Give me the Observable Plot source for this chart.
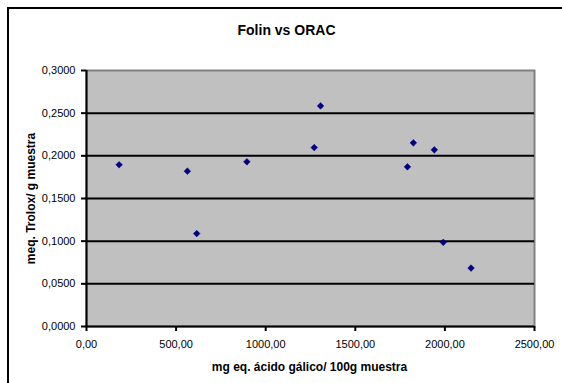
<!DOCTYPE html>
<html>
<head>
<meta charset="utf-8">
<script src="https://cdn.jsdelivr.net/npm/d3@7"></script>
<script src="https://cdn.jsdelivr.net/npm/@observablehq/plot@0.6"></script>
<style>
  html, body { margin: 0; padding: 0; background: #fff; }
  #wrap { position: relative; width: 562px; height: 383px; overflow: hidden; }
  #border { position: absolute; left: 7px; top: 7px; width: 600px; height: 420px; border-left: 2px solid #000; border-top: 2px solid #000; }
  #chart { position: absolute; left: 0; top: 0; }
</style>
</head>
<body>
<div id="wrap"><div id="border"></div><div id="chart"></div></div>
<script>
const titleText = "Folin vs ORAC";
const xLabel = "mg eq. ácido gálico/ 100g muestra";
const yLabel = "meq. Trolox/ g muestra";
const xVals = [182, 563, 615, 895, 1271, 1306, 1791, 1824, 1941, 1991, 2146];
const yVals = [0.1895, 0.1820, 0.1089, 0.1930, 0.2097, 0.2585, 0.1871, 0.2152, 0.2070, 0.0986, 0.0685];
const xTicks = [0, 500, 1000, 1500, 2000, 2500];
const yTicks = [0, 0.05, 0.1, 0.15, 0.2, 0.25, 0.3];
const gridVals = [0.05, 0.1, 0.15, 0.2, 0.25];

const points = xVals.map((x, i) => ({x, y: yVals[i]}));
const fx = d => d3.format(".2f")(d).replace(".", ",");
const fy = d => d3.format(".4f")(d).replace(".", ",");
const font = '"Liberation Sans", Arial, sans-serif';

const chart = Plot.plot({
  width: 562, height: 383,
  marginLeft: 86, marginRight: 28, marginTop: 70, marginBottom: 57,
  style: {fontFamily: font, fontSize: "11px", color: "#000", background: "transparent", overflow: "visible"},
  x: {domain: [0, 2500]},
  y: {domain: [0, 0.3]},
  marks: [
    Plot.frame({fill: "#c0c0c0", stroke: "#808080", strokeWidth: 2}),
    Plot.ruleY(gridVals, {stroke: "#000", strokeWidth: 2}),
    Plot.ruleX([0], {stroke: "#000", strokeWidth: 2}),
    Plot.ruleY([0], {stroke: "#000", strokeWidth: 2}),
    Plot.axisX({ticks: xTicks, tickFormat: fx, tickSize: 5, tickPadding: 9, strokeWidth: 2, label: null}),
    Plot.axisY({ticks: yTicks, tickFormat: fy, tickSize: 5, tickPadding: 6, strokeWidth: 2, label: null}),
    Plot.dot(points, {x: "x", y: "y", symbol: "diamond2", r: 3, fill: "#000080", stroke: "#000080", strokeWidth: 0.5}),
    Plot.text([titleText], {text: d => d, frameAnchor: "top", dx: -24, dy: -40, textAnchor: "middle", lineAnchor: "middle", fontWeight: "bold", fontSize: 14}),
    Plot.text([xLabel], {text: d => d, frameAnchor: "bottom", dx: -1, dy: 40.5, textAnchor: "middle", lineAnchor: "middle", fontWeight: "bold", fontSize: 12}),
    Plot.text([yLabel], {text: d => d, frameAnchor: "left", dx: -55, dy: 0, rotate: -90, textAnchor: "middle", lineAnchor: "middle", fontWeight: "bold", fontSize: 12})
  ]
});
document.getElementById("chart").appendChild(chart);
</script>
</body>
</html>
